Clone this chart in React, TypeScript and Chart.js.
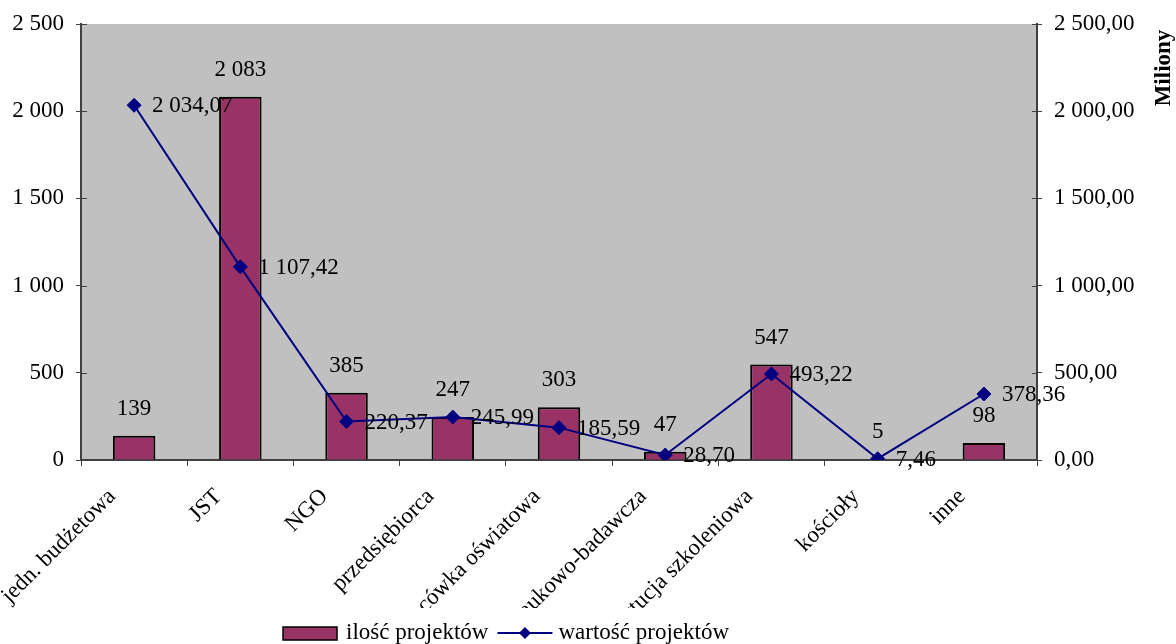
import React, { useEffect, useRef } from "react";
import { Chart, registerables } from "chart.js";

Chart.register(...registerables);

const categories = [
  "jedn. budżetowa",
  "JST",
  "NGO",
  "przedsiębiorca",
  "placówka oświatowa",
  "jednostka naukowo-badawcza",
  "instytucja szkoleniowa",
  "kościoły",
  "inne",
];
const projectCounts = [139, 2083, 385, 247, 303, 47, 547, 5, 98];
const projectValues = [2034.07, 1107.42, 220.37, 245.99, 185.59, 28.7, 493.22, 7.46, 378.36];
const axisMin = 0;
const axisMax = 2500;
const axisStep = 500;
const seriesNames = ["ilość projektów", "wartość projektów"];
const rightAxisTitle = "Miliony";

const FONT = '"Liberation Serif", "Times New Roman", Times, serif';
const FS = 23;
const BAR_COLOR = "#993366";
const LINE_COLOR = "#000080";
const AXIS_COLOR = "#404040";
const PLOT_BG = "#C0C0C0";

function groupInt(s: string): string {
  return s.replace(/\B(?=(\d{3})+(?!\d))/g, " ");
}
function fmtInt(n: number): string {
  return groupInt(String(Math.round(n)));
}
function fmtDec(n: number): string {
  const [i, d] = n.toFixed(2).split(".");
  return groupInt(i) + "," + d;
}

const fixPadding = (w?: number, h?: number) => (scale: any) => {
  if (w !== undefined) scale.width = w;
  if (h !== undefined) scale.height = h;
  scale.paddingTop = 0;
  scale.paddingBottom = 0;
  scale.paddingLeft = 0;
  scale.paddingRight = 0;
};

const customPlugin = {
  id: "customDecor",
  beforeDraw(chart: any) {
    const { ctx, chartArea: a } = chart;
    ctx.save();
    ctx.fillStyle = PLOT_BG;
    ctx.fillRect(a.left, a.top, a.right - a.left, a.bottom - a.top);
    ctx.restore();
  },
  afterDatasetsDraw(chart: any) {
    const { ctx } = chart;
    ctx.save();
    ctx.font = `${FS}px ${FONT}`;
    ctx.fillStyle = "#000";
    const barMeta = chart.getDatasetMeta(1);
    barMeta.data.forEach((el: any, i: number) => {
      ctx.textAlign = "center";
      ctx.textBaseline = "middle";
      ctx.fillText(fmtInt(projectCounts[i]), el.x, el.y - 27);
    });
    const lineMeta = chart.getDatasetMeta(0);
    lineMeta.data.forEach((el: any, i: number) => {
      ctx.textAlign = "left";
      ctx.textBaseline = "middle";
      ctx.fillText(fmtDec(projectValues[i]), el.x + 18, el.y + 1);
    });
    ctx.restore();
  },
  afterDraw(chart: any) {
    const { ctx, chartArea: a, scales } = chart;
    ctx.save();
    ctx.strokeStyle = AXIS_COLOR;
    ctx.lineWidth = 1;
    const ys = scales.y;
    ys.ticks.forEach((t: any) => {
      const py = Math.round(ys.getPixelForValue(t.value)) + 0.5;
      ctx.beginPath();
      ctx.moveTo(a.left, py);
      ctx.lineTo(a.left + 6, py);
      ctx.moveTo(a.right - 5, py);
      ctx.lineTo(a.right, py);
      ctx.stroke();
    });

    // x labels, rotated and clipped
    ctx.save();
    ctx.beginPath();
    ctx.rect(0, a.bottom + 1, chart.width, 607 - a.bottom);
    ctx.clip();
    ctx.font = `${FS}px ${FONT}`;
    ctx.fillStyle = "#000";
    const xs = scales.x;
    categories.forEach((label, i) => {
      const cx = xs.getPixelForValue(i);
      ctx.save();
      ctx.translate(cx - 22, a.bottom + 33);
      ctx.rotate(-Math.PI / 4);
      ctx.textAlign = "right";
      ctx.textBaseline = "middle";
      ctx.fillText(label, 0, 0);
      ctx.restore();
    });
    ctx.restore();

    // right axis title
    ctx.save();
    ctx.font = `bold ${FS}px ${FONT}`;
    ctx.fillStyle = "#000";
    ctx.translate(chart.width - 12, a.top + 44);
    ctx.rotate(-Math.PI / 2);
    ctx.textAlign = "center";
    ctx.textBaseline = "middle";
    ctx.fillText(rightAxisTitle, 0, 0);
    ctx.restore();

    // legend
    ctx.font = `${FS}px ${FONT}`;
    const ly = 633;
    const w1 = ctx.measureText(seriesNames[0]).width;
    const w2 = ctx.measureText(seriesNames[1]).width;
    const boxW = 54;
    const lineW = 55;
    const total = boxW + 9 + w1 + 9 + lineW + 6 + w2;
    let x = 506 - total / 2;
    ctx.fillStyle = BAR_COLOR;
    ctx.fillRect(x, ly - 6, boxW, 13);
    ctx.strokeStyle = "#000";
    ctx.lineWidth = 1.5;
    ctx.strokeRect(x, ly - 6, boxW, 13);
    x += boxW + 9;
    ctx.fillStyle = "#000";
    ctx.textAlign = "left";
    ctx.textBaseline = "middle";
    ctx.fillText(seriesNames[0], x, ly);
    x += w1 + 9;
    ctx.strokeStyle = LINE_COLOR;
    ctx.lineWidth = 2;
    ctx.beginPath();
    ctx.moveTo(x, ly);
    ctx.lineTo(x + lineW, ly);
    ctx.stroke();
    const dx = x + lineW / 2;
    ctx.fillStyle = LINE_COLOR;
    ctx.beginPath();
    ctx.moveTo(dx, ly - 6);
    ctx.lineTo(dx + 6, ly);
    ctx.lineTo(dx, ly + 6);
    ctx.lineTo(dx - 6, ly);
    ctx.closePath();
    ctx.fill();
    x += lineW + 6;
    ctx.fillStyle = "#000";
    ctx.fillText(seriesNames[1], x, ly);

    ctx.restore();
  },
};

export default function App() {
  const canvasRef = useRef<HTMLCanvasElement | null>(null);

  useEffect(() => {
    const canvas = canvasRef.current;
    if (!canvas) return;
    const chart = new Chart(canvas, {
      type: "bar",
      data: {
        labels: categories,
        datasets: [
          {
            type: "line",
            label: seriesNames[1],
            data: projectValues,
            yAxisID: "y1",
            borderColor: LINE_COLOR,
            backgroundColor: LINE_COLOR,
            borderWidth: 2,
            pointStyle: "rectRot",
            pointRadius: 7,
            pointBackgroundColor: LINE_COLOR,
            pointBorderColor: LINE_COLOR,
            pointBorderWidth: 1,
            tension: 0,
            order: 0,
          } as any,
          {
            type: "bar",
            label: seriesNames[0],
            data: projectCounts,
            yAxisID: "y",
            backgroundColor: BAR_COLOR,
            borderColor: "#000",
            borderWidth: 2,
            categoryPercentage: 0.8,
            barPercentage: 0.5,
            order: 1,
          } as any,
        ],
      },
      options: {
        responsive: false,
        maintainAspectRatio: false,
        animation: false,
        devicePixelRatio: 1,
        layout: { padding: { top: 24, left: 0, right: 0, bottom: 0 } },
        plugins: {
          legend: { display: false },
          tooltip: { enabled: false },
          title: { display: false },
        },
        scales: {
          x: {
            type: "category",
            offset: true,
            grid: {
              offset: true,
              drawOnChartArea: false,
              drawTicks: true,
              tickLength: 6,
              color: AXIS_COLOR,
            },
            border: { display: true, color: AXIS_COLOR, width: 2 },
            ticks: { display: false },
            afterFit: fixPadding(undefined, 184),
          },
          y: {
            type: "linear",
            position: "left",
            min: axisMin,
            max: axisMax,
            grid: { drawOnChartArea: false, tickLength: 5, color: AXIS_COLOR },
            border: { display: true, color: AXIS_COLOR, width: 2 },
            ticks: {
              stepSize: axisStep,
              padding: 12,
              color: "#000",
              font: { family: FONT, size: FS },
              callback: (v: any) => fmtInt(Number(v)),
            },
            afterFit: fixPadding(81, undefined),
          },
          y1: {
            type: "linear",
            position: "right",
            min: axisMin,
            max: axisMax,
            grid: { drawOnChartArea: false, tickLength: 5, color: AXIS_COLOR },
            border: { display: true, color: AXIS_COLOR, width: 2 },
            ticks: {
              stepSize: axisStep,
              padding: 12,
              color: "#000",
              font: { family: FONT, size: FS },
              callback: (v: any) => fmtDec(Number(v)),
            },
            afterFit: fixPadding(139, undefined),
          },
        },
      },
      plugins: [customPlugin],
    });
    return () => chart.destroy();
  }, []);

  return (
    <div style={{ position: "absolute", left: 0, top: 0, width: 1176, height: 644, background: "#fff" }}>
      <canvas ref={canvasRef} width={1176} height={644} style={{ display: "block", width: 1176, height: 644 }} />
    </div>
  );
}
